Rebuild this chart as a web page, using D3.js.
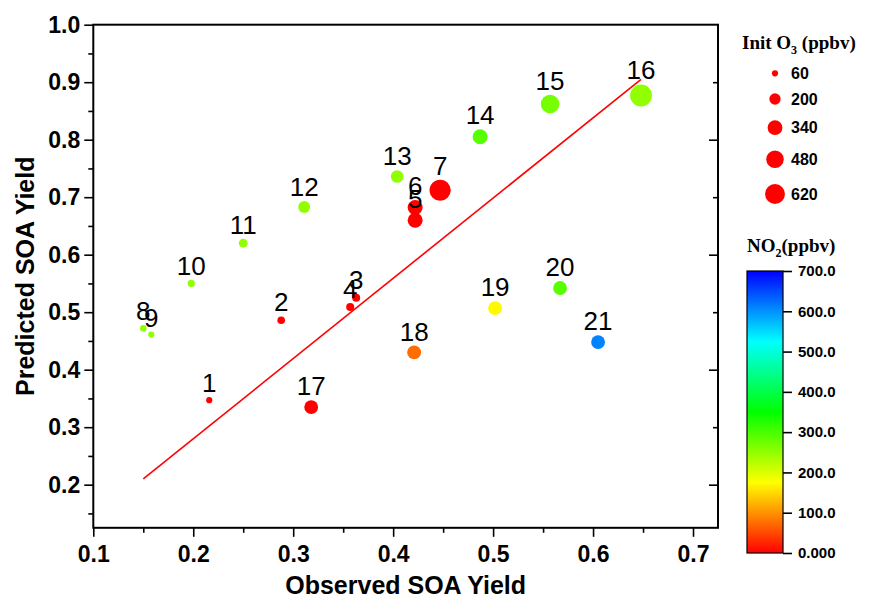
<!DOCTYPE html>
<html>
<script src="https://d3js.org/d3.v7.min.js"></script>
<style>
  body { margin: 0; background: #fff; }
  text { font-family: "Liberation Sans", Arial, sans-serif; }
</style>
<body>
<div id="chart"></div>

<script>
    // experiment number, observed / predicted SOA yield, initial O3 and NO2 (ppbv)
    var runIds    = [1, 2, 3, 4, 5, 6, 7, 8, 9, 10, 11, 12, 13, 14, 15, 16, 17, 18, 19, 20, 21];
    var observed  = [0.216, 0.288, 0.363, 0.357, 0.422, 0.422, 0.447, 0.150, 0.158, 0.198, 0.250,
                     0.311, 0.404, 0.487, 0.557, 0.648, 0.318, 0.421, 0.502, 0.567, 0.605];
    var predicted = [0.347, 0.486, 0.525, 0.509, 0.660, 0.682, 0.712, 0.472, 0.461, 0.550, 0.620,
                     0.683, 0.736, 0.805, 0.862, 0.877, 0.335, 0.430, 0.507, 0.542, 0.448];
    var initO3    = [60, 90, 100, 100, 350, 350, 700, 70, 60, 80, 120,
                     220, 250, 350, 540, 750, 300, 300, 300, 300, 300];
    var no2       = [0, 0, 0, 0, 0, 0, 0, 250, 250, 250, 250,
                     250, 250, 290, 270, 250, 0, 75, 170, 290, 610];

    // fitted line end points
    var fitX = [0.150, 0.648];
    var fitY = [0.210, 0.905];

    var xTicks = [0.1, 0.2, 0.3, 0.4, 0.5, 0.6, 0.7];
    var yTicks = [0.2, 0.3, 0.4, 0.5, 0.6, 0.7, 0.8, 0.9, 1.0];
    var o3Legend = [60, 200, 340, 480, 620];
    var no2Ticks = [0, 100, 200, 300, 400, 500, 600, 700];

    var width = 869, height = 602;
    var pl = 93.3, pr = 718, pt = 24.7, pb = 527.8; // plot frame

    var svg = d3.select("#chart")
        .append("svg")
        .attr("width", width)
        .attr("height", height);

    var x = d3.scaleLinear().domain([0.1, 0.725]).range([pl, pr]);
    var y = d3.scaleLinear().domain([0.125, 1.0]).range([pb, pt]);
    var r = d3.scaleSqrt().domain([0, 700]).range([0, 0.4 * Math.sqrt(700)]);
    var color = d3.scaleLinear()
        .domain([0, 175, 350, 525, 700])
        .range(["#ff0000", "#ffff00", "#00ff00", "#00ffff", "#0000ff"]);

    var fmt1 = d3.format(".1f");

    // minor ticks
    var xMinor = d3.range(0.15, 0.7, 0.1);
    var yMinor = d3.range(0.15, 1.0, 0.1);

    function styleAxis(g, fontSize) {
        g.select(".domain").remove();
        g.selectAll(".tick line").attr("stroke", "#000").attr("stroke-width", 1.6);
        g.selectAll("text")
            .attr("fill", "#000")
            .style("font-size", fontSize + "px")
            .style("font-weight", "bold");
    }

    // bottom axis
    svg.append("g")
        .attr("transform", "translate(0," + pb + ")")
        .call(d3.axisBottom(x).tickValues(xTicks).tickFormat(fmt1).tickSize(9).tickPadding(9))
        .call(styleAxis, 23);
    svg.append("g")
        .attr("transform", "translate(0," + pb + ")")
        .call(d3.axisBottom(x).tickValues(xMinor).tickFormat("").tickSize(5))
        .call(styleAxis, 23);

    // left axis
    svg.append("g")
        .attr("transform", "translate(" + pl + ",0)")
        .call(d3.axisLeft(y).tickValues(yTicks).tickFormat(fmt1).tickSize(9).tickPadding(4))
        .call(styleAxis, 23);
    svg.append("g")
        .attr("transform", "translate(" + pl + ",0)")
        .call(d3.axisLeft(y).tickValues(yMinor).tickFormat("").tickSize(5))
        .call(styleAxis, 23);

    // right axis, ticks inward
    svg.append("g")
        .attr("transform", "translate(" + pr + ",0)")
        .call(d3.axisLeft(y).tickValues([0.2, 0.4, 0.6, 0.8]).tickFormat("").tickSize(9))
        .call(styleAxis, 23);
    svg.append("g")
        .attr("transform", "translate(" + pr + ",0)")
        .call(d3.axisLeft(y).tickValues([0.3, 0.5, 0.7, 0.9]).tickFormat("").tickSize(5))
        .call(styleAxis, 23);

    // frame
    svg.append("rect")
        .attr("x", pl)
        .attr("y", pt)
        .attr("width", pr - pl)
        .attr("height", pb - pt)
        .attr("fill", "none")
        .attr("stroke", "#000")
        .attr("stroke-width", 2);

    // axis titles
    svg.append("text")
        .attr("x", (pl + pr) / 2)
        .attr("y", 594)
        .attr("text-anchor", "middle")
        .style("font-size", "25px")
        .style("font-weight", "bold")
        .text("Observed SOA Yield");

    svg.append("text")
        .attr("transform", "translate(34," + (pt + pb) / 2 + ") rotate(-90)")
        .attr("text-anchor", "middle")
        .style("font-size", "25px")
        .style("font-weight", "bold")
        .text("Predicted SOA Yield");

    // fit line
    svg.append("line")
        .attr("x1", x(fitX[0]))
        .attr("y1", y(fitY[0]))
        .attr("x2", x(fitX[1]))
        .attr("y2", y(fitY[1]))
        .attr("stroke", "#ff0000")
        .attr("stroke-width", 1.6);

    var points = runIds.map(function (id, i) {
        return { id: id, ox: observed[i], py: predicted[i], o3: initO3[i], no2: no2[i] };
    });

    svg.append("g")
        .selectAll("circle")
        .data(points)
        .join("circle")
        .attr("cx", function (d) { return x(d.ox); })
        .attr("cy", function (d) { return y(d.py); })
        .attr("r", function (d) { return r(d.o3); })
        .attr("fill", function (d) { return color(d.no2); });

    svg.append("g")
        .selectAll("text")
        .data(points)
        .join("text")
        .attr("x", function (d) { return x(d.ox); })
        .attr("y", function (d) { return y(d.py) - r(d.o3) - 5; })
        .attr("text-anchor", "middle")
        .style("font-size", "26px")
        .attr("fill", "#000")
        .text(function (d) { return d.id; });

    // size legend
    var serif = '"Liberation Serif", "Times New Roman", serif';
    var t1 = svg.append("text")
        .attr("x", 742)
        .attr("y", 49)
        .style("font-family", serif)
        .style("font-size", "19px")
        .style("font-weight", "bold");
    t1.append("tspan").text("Init O");
    t1.append("tspan").attr("dy", 5).style("font-size", "12px").text("3");
    t1.append("tspan").attr("dy", -5).text(" (ppbv)");

    var legY = d3.scaleOrdinal().domain(o3Legend).range([73.3, 99, 127.7, 159.3, 194]);
    var leg = svg.append("g")
        .selectAll("g")
        .data(o3Legend)
        .join("g")
        .attr("transform", function (d) { return "translate(775," + legY(d) + ")"; });
    leg.append("circle")
        .attr("r", function (d) { return r(d); })
        .attr("fill", "#ff0000");
    leg.append("text")
        .attr("x", 16)
        .attr("dy", "0.36em")
        .style("font-size", "16px")
        .style("font-weight", "bold")
        .text(function (d) { return d; });

    // colour bar
    var t2 = svg.append("text")
        .attr("x", 747)
        .attr("y", 252)
        .style("font-family", serif)
        .style("font-size", "19px")
        .style("font-weight", "bold");
    t2.append("tspan").text("NO");
    t2.append("tspan").attr("dy", 5).style("font-size", "12px").text("2");
    t2.append("tspan").attr("dy", -5).text("(ppbv)");

    var cbTop = 271, cbBottom = 553, cbLeft = 747, cbRight = 783;
    var cb = d3.scaleLinear().domain([0, 700]).range([cbBottom, cbTop]);

    var grad = svg.append("defs").append("linearGradient")
        .attr("id", "no2grad")
        .attr("x1", 0).attr("y1", 1).attr("x2", 0).attr("y2", 0);
    grad.selectAll("stop")
        .data(color.domain())
        .join("stop")
        .attr("offset", function (d) { return d / 700; })
        .attr("stop-color", function (d) { return color(d); });

    svg.append("rect")
        .attr("x", cbLeft)
        .attr("y", cbTop)
        .attr("width", cbRight - cbLeft)
        .attr("height", cbBottom - cbTop)
        .attr("fill", "url(#no2grad)")
        .attr("stroke", "#000")
        .attr("stroke-width", 1.2);

    svg.append("g")
        .attr("transform", "translate(" + cbRight + ",0)")
        .call(d3.axisRight(cb).tickValues(no2Ticks).tickSize(9).tickPadding(6)
            .tickFormat(function (d) { return d === 0 ? "0.000" : fmt1(d); }))
        .call(styleAxis, 15);
</script>

</body>
</html>
